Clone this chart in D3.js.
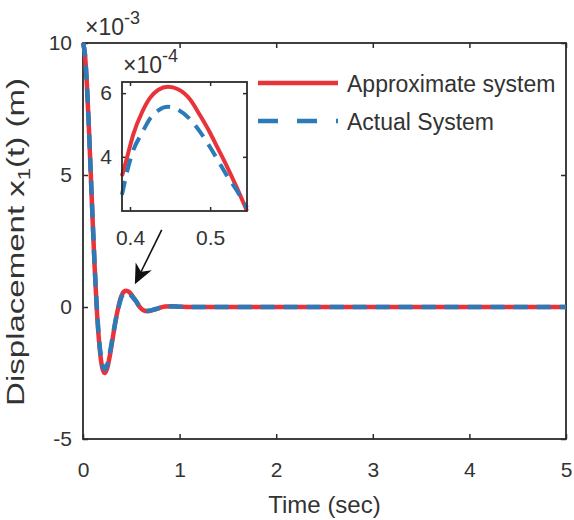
<!DOCTYPE html>
<html>
<head>
<meta charset="utf-8">
<script src="https://cdn.jsdelivr.net/npm/d3@7/dist/d3.min.js"></script>
<style>
  html, body { margin: 0; padding: 0; background: #ffffff; }
  svg { display: block; }
  text { font-family: "Liberation Sans", Arial, Helvetica, sans-serif; fill: #333333; }
</style>
</head>
<body>
<svg id="chart" width="574" height="520"></svg>
<script>
// Displacement response, main view (units of 1e-3 m)
const timeSec = [0, 0.02, 0.04, 0.06, 0.08, 0.10, 0.12, 0.14, 0.16, 0.18, 0.20, 0.224, 0.25, 0.28, 0.31, 0.34, 0.37, 0.39, 0.404, 0.425, 0.4475, 0.475, 0.50, 0.52, 0.546, 0.58, 0.62, 0.67, 0.72, 0.78, 0.85, 0.92, 1.0, 1.2, 1.5, 2, 2.5, 3, 3.5, 4, 4.5, 5];
const approxMain = [10, 9.57, 8.44, 6.87, 5.07, 3.25, 1.56, 0.11, -1.03, -1.83, -2.31, -2.50, -2.32, -1.80, -1.13, -0.47, 0.06, 0.34, 0.47, 0.585, 0.62, 0.58, 0.475, 0.375, 0.23, 0.03, -0.11, -0.16, -0.12, -0.05, 0.02, 0.03, 0.01, 0, 0, 0, 0, 0, 0, 0, 0, 0];
const actualMain = [10, 9.57, 8.45, 6.90, 5.10, 3.30, 1.63, 0.20, -0.95, -1.72, -2.18, -2.36, -2.20, -1.70, -1.07, -0.47, 0.02, 0.28, 0.42, 0.52, 0.557, 0.518, 0.43, 0.345, 0.24, 0.05, -0.09, -0.14, -0.11, -0.05, 0.01, 0.02, 0.01, 0, 0, 0, 0, 0, 0, 0, 0, 0];

// Zoomed view around the first overshoot (units of 1e-4 m)
const insetTime = [0.390, 0.396, 0.404, 0.415, 0.425, 0.435, 0.4475, 0.46, 0.475, 0.487, 0.50, 0.51, 0.52, 0.533, 0.546];
const approxInset = [3.40, 3.95, 4.70, 5.40, 5.85, 6.10, 6.20, 6.12, 5.80, 5.32, 4.75, 4.25, 3.75, 3.05, 2.30];
const actualInset = [2.81, 3.50, 4.20, 4.75, 5.20, 5.45, 5.57, 5.48, 5.18, 4.80, 4.30, 3.88, 3.45, 2.95, 2.40];

const xTicks = [0, 1, 2, 3, 4, 5];
const yTicks = [-5, 0, 5, 10];
const insetXTicks = [0.4, 0.5];
const insetYTicks = [4, 6];
const seriesNames = ["Approximate system", "Actual System"];

const RED = "#e8333b";
const BLUE = "#2a7bb8";
const INK = "#2b2b2b";
const TEXT = "#333333";
const fmt = d => (d < 0 ? "-" + Math.abs(d) : String(d));

const svg = d3.select("#chart");
svg.append("rect").attr("width", 574).attr("height", 520).attr("fill", "#ffffff");

// ---------- main axes ----------
const x = d3.scaleLinear().domain([0, 5]).range([83, 566]);
const y = d3.scaleLinear().domain([-5, 10]).range([439, 43]);

function styleAxis(g) {
  g.select(".domain").remove();
  g.selectAll(".tick line").attr("stroke", INK).attr("stroke-width", 1.5);
  g.selectAll(".tick text").attr("fill", TEXT).style("font-size", "21px")
    .style("font-family", '"Liberation Sans", Arial, sans-serif');
}

svg.append("g").attr("transform", `translate(0,${y(-5)})`)
  .call(d3.axisBottom(x).tickValues(xTicks).tickFormat(fmt).tickSizeInner(-5).tickSizeOuter(0).tickPadding(23))
  .call(styleAxis);
svg.append("g").attr("transform", `translate(0,${y(10)})`)
  .call(d3.axisTop(x).tickValues(xTicks).tickFormat("").tickSizeInner(-5).tickSizeOuter(0))
  .call(styleAxis);
svg.append("g").attr("transform", `translate(${x(0)},0)`)
  .call(d3.axisLeft(y).tickValues(yTicks).tickFormat(fmt).tickSizeInner(-5).tickSizeOuter(0).tickPadding(11))
  .call(styleAxis);
svg.append("g").attr("transform", `translate(${x(5)},0)`)
  .call(d3.axisRight(y).tickValues(yTicks).tickFormat("").tickSizeInner(-5).tickSizeOuter(0))
  .call(styleAxis);

svg.append("rect")
  .attr("x", x(0)).attr("y", y(10))
  .attr("width", x(5) - x(0)).attr("height", y(-5) - y(10))
  .attr("fill", "none").attr("stroke", INK).attr("stroke-width", 1.8);

// exponent label of the y axis
const expMain = svg.append("text").attr("x", x(0) + 2).attr("y", y(10) - 8).style("font-size", "23px");
expMain.append("tspan").text("\u00d710");
expMain.append("tspan").attr("dy", -11).style("font-size", "18px").text("-3");

// axis titles
svg.append("text")
  .attr("x", (x(0) + x(5)) / 2).attr("y", 513)
  .attr("text-anchor", "middle").style("font-size", "24px")
  .text("Time (sec)");

const yTitle = svg.append("g").attr("transform", `translate(24,${(y(-5) + y(10)) / 2 + 1}) rotate(-90)`);
const yTitleText = yTitle.append("text").attr("text-anchor", "middle").style("font-size", "24px");
yTitleText.append("tspan").text("Displacement x");
yTitleText.append("tspan").attr("dy", 6).style("font-size", "16px").text("1");
yTitleText.append("tspan").attr("dy", -6).text("(t) (m)");
{
  const natural = yTitleText.node().getComputedTextLength();
  const target = 328;
  yTitleText.attr("transform", `scale(${target / natural},1)`);
}

// ---------- main curves ----------
const mainLine = d3.line().x(d => x(d[0])).y(d => y(d[1])).curve(d3.curveMonotoneX);
svg.append("path")
  .datum(d3.zip(timeSec, approxMain))
  .attr("d", mainLine).attr("fill", "none")
  .attr("stroke", RED).attr("stroke-width", 4.5).attr("stroke-linejoin", "round");
svg.append("path")
  .datum(d3.zip(timeSec, actualMain))
  .attr("d", mainLine).attr("fill", "none")
  .attr("stroke", BLUE).attr("stroke-width", 4.5).attr("stroke-dasharray", "14,9");

// ---------- arrow pointing at the overshoot ----------
{
  const tail = [x(0.815), y(2.92)];
  const tip = [x(0.537), y(0.86)];
  const dx = tip[0] - tail[0], dy = tip[1] - tail[1];
  const len = Math.hypot(dx, dy);
  const ux = dx / len, uy = dy / len, px = -uy, py = ux;
  const headLen = 20, halfW = 9, notch = 6;
  const base = [tip[0] - ux * headLen, tip[1] - uy * headLen];
  svg.append("line")
    .attr("x1", tail[0]).attr("y1", tail[1])
    .attr("x2", base[0] + ux * notch).attr("y2", base[1] + uy * notch)
    .attr("stroke", "#111").attr("stroke-width", 1.6);
  const head = [
    tip,
    [base[0] + px * halfW, base[1] + py * halfW],
    [base[0] + ux * notch, base[1] + uy * notch],
    [base[0] - px * halfW, base[1] - py * halfW]
  ];
  svg.append("path").attr("d", "M" + head.join("L") + "Z").attr("fill", "#111");
}

// ---------- inset ----------
const xi = d3.scaleLinear().domain([0.39, 0.546]).range([122, 247]);
const yi = d3.scaleLinear().domain([2.3, 6.35]).range([211, 82]);

svg.append("rect")
  .attr("x", xi.range()[0]).attr("y", yi.range()[1])
  .attr("width", xi.range()[1] - xi.range()[0]).attr("height", yi.range()[0] - yi.range()[1])
  .attr("fill", "#ffffff");

svg.append("g").attr("transform", `translate(0,${yi.range()[0]})`)
  .call(d3.axisBottom(xi).tickValues(insetXTicks).tickFormat(d3.format(".1f")).tickSizeInner(-4).tickSizeOuter(0).tickPadding(19))
  .call(styleAxis);
svg.append("g").attr("transform", `translate(0,${yi.range()[1]})`)
  .call(d3.axisTop(xi).tickValues(insetXTicks).tickFormat("").tickSizeInner(-4).tickSizeOuter(0))
  .call(styleAxis);
svg.append("g").attr("transform", `translate(${xi.range()[0]},0)`)
  .call(d3.axisLeft(yi).tickValues(insetYTicks).tickFormat(fmt).tickSizeInner(-4).tickSizeOuter(0).tickPadding(10))
  .call(styleAxis);
svg.append("g").attr("transform", `translate(${xi.range()[1]},0)`)
  .call(d3.axisRight(yi).tickValues(insetYTicks).tickFormat("").tickSizeInner(-4).tickSizeOuter(0))
  .call(styleAxis);

const insetLine = d3.line().x(d => xi(d[0])).y(d => yi(d[1])).curve(d3.curveMonotoneX);
svg.append("path")
  .datum(d3.zip(insetTime, approxInset))
  .attr("d", insetLine).attr("fill", "none")
  .attr("stroke", RED).attr("stroke-width", 4).attr("stroke-linejoin", "round");
svg.append("path")
  .datum(d3.zip(insetTime, actualInset))
  .attr("d", insetLine).attr("fill", "none")
  .attr("stroke", BLUE).attr("stroke-width", 4).attr("stroke-dasharray", "14,9");

svg.append("rect")
  .attr("x", xi.range()[0]).attr("y", yi.range()[1])
  .attr("width", xi.range()[1] - xi.range()[0]).attr("height", yi.range()[0] - yi.range()[1])
  .attr("fill", "none").attr("stroke", INK).attr("stroke-width", 1.8);

const expInset = svg.append("text").attr("x", xi.range()[0] + 1).attr("y", yi.range()[1] - 9).style("font-size", "23px");
expInset.append("tspan").text("\u00d710");
expInset.append("tspan").attr("dy", -11).style("font-size", "18px").text("-4");

// ---------- legend ----------
const legend = svg.append("g").attr("transform", "translate(258,83)");
const legendRows = [
  { name: seriesNames[0], color: RED, dash: null, dy: 0 },
  { name: seriesNames[1], color: BLUE, dash: "20,19", dy: 38 }
];
legendRows.forEach(r => {
  legend.append("line")
    .attr("x1", 0).attr("x2", 80).attr("y1", r.dy).attr("y2", r.dy)
    .attr("stroke", r.color).attr("stroke-width", 4.5)
    .attr("stroke-dasharray", r.dash);
  legend.append("text")
    .attr("x", 89).attr("y", r.dy + 9)
    .style("font-size", "23px")
    .text(r.name);
});
</script>
</body>
</html>
